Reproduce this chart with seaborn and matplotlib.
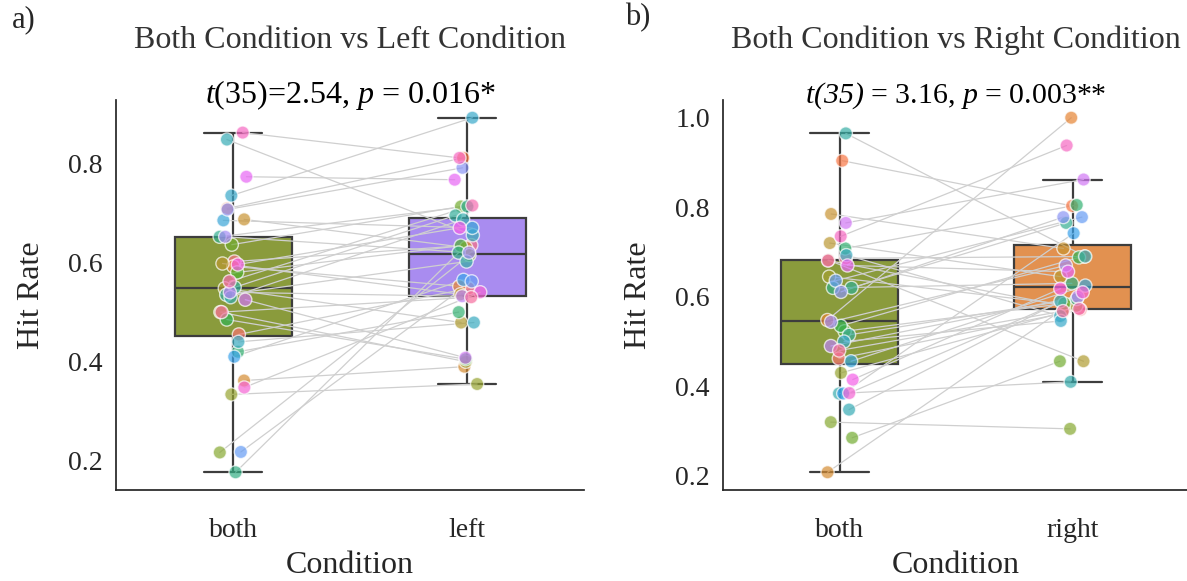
import matplotlib
matplotlib.use('Agg')
import matplotlib.pyplot as plt
import seaborn as sns
import pandas as pd
import numpy as np

# one entry per subject, subjects ordered like the husl hue palette
both_a = [0.602, 0.455, 0.709, 0.592, 0.362, 0.687, 0.598, 0.548, 0.500, 0.334, 0.217, 0.636,
          0.580, 0.485, 0.420, 0.177, 0.652, 0.550, 0.535, 0.530, 0.848, 0.440, 0.735, 0.685,
          0.410, 0.218, 0.707, 0.652, 0.540, 0.525, 0.773, 0.596, 0.348, 0.862, 0.562, 0.500]
left_a = [0.635, 0.548, 0.811, 0.552, 0.390, 0.630, 0.536, 0.479, 0.400, 0.355, 0.615, 0.713,
          0.634, 0.405, 0.500, 0.620, 0.713, 0.695, 0.602, 0.687, 0.655, 0.479, 0.892, 0.670,
          0.565, 0.562, 0.791, 0.620, 0.532, 0.408, 0.767, 0.670, 0.540, 0.811, 0.715, 0.530]

both_b = [0.686, 0.462, 0.904, 0.548, 0.208, 0.785, 0.720, 0.682, 0.645, 0.430, 0.320, 0.285,
          0.523, 0.535, 0.708, 0.620, 0.620, 0.515, 0.965, 0.384, 0.348, 0.693, 0.500, 0.456,
          0.384, 0.636, 0.611, 0.544, 0.490, 0.765, 0.670, 0.415, 0.385, 0.735, 0.681, 0.480]
right_b = [0.690, 0.571, 0.803, 1.000, 0.575, 0.708, 0.645, 0.456, 0.580, 0.565, 0.305, 0.456,
           0.585, 0.688, 0.805, 0.630, 0.765, 0.595, 0.690, 0.410, 0.590, 0.557, 0.546, 0.625,
           0.742, 0.778, 0.778, 0.670, 0.600, 0.862, 0.656, 0.618, 0.610, 0.938, 0.573, 0.568]

box_colors = {'both': '#8a9b3c', 'left': '#a98cf0', 'right': '#e29150'}

sns.set_theme(style='white')
plt.rcParams['font.family'] = ['Liberation Serif', 'DejaVu Serif']
plt.rcParams['mathtext.fontset'] = 'custom'
plt.rcParams['mathtext.rm'] = 'Liberation Serif:italic'
plt.rcParams['mathtext.it'] = 'Liberation Serif:italic'
np.random.seed(3)


def paired_panel(ax, both, other, cond, heading, stat, stat_size):
    n = len(both)
    subjects = [f'S{i:02d}' for i in range(n)]
    df = pd.DataFrame({
        'Subject': subjects * 2,
        'Condition': ['both'] * n + [cond] * n,
        'Hit Rate': list(both) + list(other),
    })
    order = ['both', cond]

    sns.boxplot(data=df, x='Condition', y='Hit Rate', hue='Condition', order=order,
                palette=box_colors, width=0.5, showfliers=False, saturation=1,
                linecolor='#3d3d3d', linewidth=1.6, legend=False, ax=ax)
    sns.stripplot(data=df, x='Condition', y='Hit Rate', hue='Subject', order=order,
                  palette=sns.color_palette('husl', n), jitter=0.06, size=9.5, alpha=0.7,
                  edgecolor='white', linewidth=1, legend=False, ax=ax)

    # connect each subject's two points
    pts = [c.get_offsets() for c in ax.collections[-2:]]
    for c in ax.collections[-2:]:
        c.set_zorder(4)
    for i in range(n):
        ax.plot([pts[0][i, 0], pts[1][i, 0]], [pts[0][i, 1], pts[1][i, 1]],
                color='#cfcfcf', lw=0.9, zorder=3)

    ax.set_xlim(-0.5, 1.5)
    sns.despine(ax=ax)
    ax.tick_params(labelsize=20)
    ax.tick_params(axis='x', pad=14)
    ax.set_xlabel('Condition', fontsize=23)
    ax.set_ylabel('Hit Rate', fontsize=23)
    ax.yaxis.set_label_coords(-0.15, 0.5)
    ax.xaxis.set_label_coords(0.5, -0.157)
    ax.text(0.5, 1.152, heading, transform=ax.transAxes, ha='center', va='center',
            fontsize=23, color='#333333')
    ax.text(0.5, 1.012, stat, transform=ax.transAxes, ha='center', va='center',
            fontsize=stat_size, color='black')


fig = plt.figure(figsize=(11.87, 5.81), dpi=100)
ax1 = fig.add_axes([116 / 1187, 91 / 581, 468 / 1187, 390 / 581])
ax2 = fig.add_axes([723 / 1187, 91 / 581, 466 / 1187, 390 / 581])

paired_panel(ax1, both_a, left_a, 'left', 'Both Condition vs Left Condition',
             r'$t$(35)=2.54, $p$ = 0.016*', 23)
paired_panel(ax2, both_b, right_b, 'right', 'Both Condition vs Right Condition',
             r'$t(35)$ = 3.16, $p$ = 0.003**', 21.5)

fig.text(12 / 1187, 1 - 20 / 581, 'a)', fontsize=22, ha='left', va='center')
fig.text(625 / 1187, 1 - 18 / 581, 'b)', fontsize=22, ha='left', va='center')

fig.savefig('out.png', dpi=100)
